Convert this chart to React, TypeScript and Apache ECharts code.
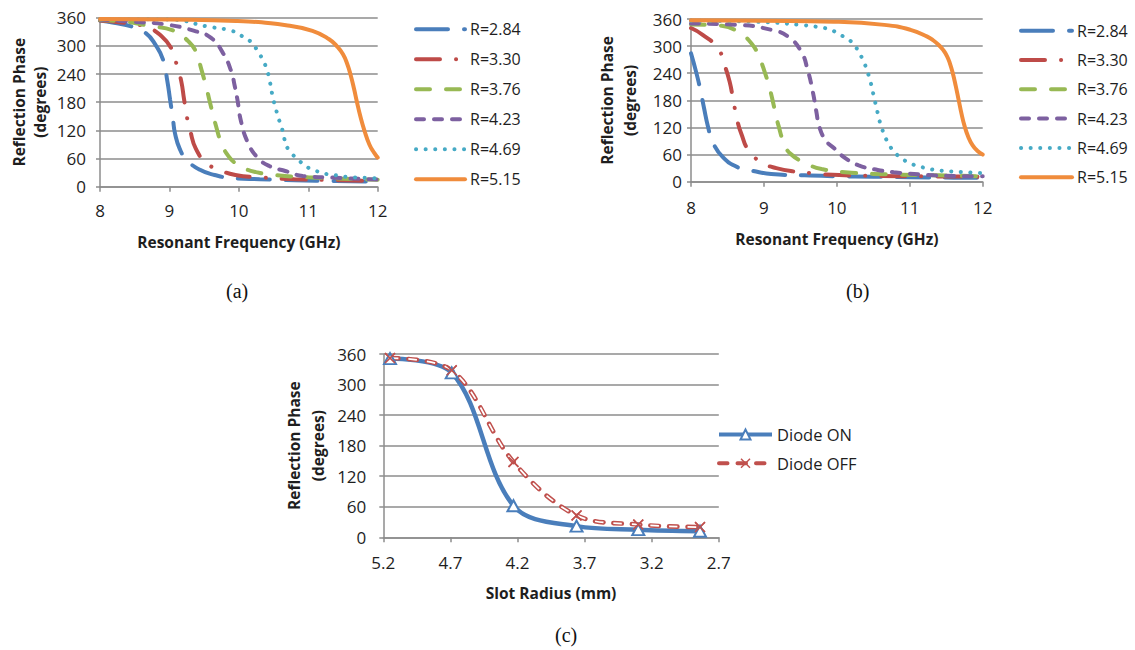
import React, { useEffect, useRef } from "react";
import * as echarts from "echarts";

// ---------- Data: chart (a) ----------
const aR284 = [[8, 354], [8.2, 349], [8.46, 341], [8.66, 327], [8.8, 302], [8.91, 270], [8.97, 225], [9.01, 185], [9.05, 145], [9.08, 114], [9.15, 80], [9.25, 57], [9.44, 36], [9.65, 25], [9.92, 18], [10.3, 16], [10.8, 14], [11.4, 12], [12, 11]];
const aR330 = [[8, 354], [8.3, 350], [8.55, 345], [8.69, 339], [8.86, 324], [9.03, 294], [9.11, 257], [9.17, 225], [9.21, 187], [9.25, 150], [9.3, 119], [9.38, 81], [9.53, 51], [9.7, 37], [9.95, 25], [10.3, 20], [10.8, 16], [11.4, 14], [12, 12]];
const aR376 = [[8, 355], [8.4, 351], [8.69, 343], [9.07, 332], [9.27, 310], [9.38, 288], [9.46, 250], [9.53, 212], [9.6, 170], [9.67, 130], [9.75, 92], [9.85, 65], [9.95, 50], [10.06, 40], [10.25, 31], [10.5, 25], [11, 20], [11.5, 17], [12, 15]];
const aR423 = [[8, 356], [8.5, 351], [8.93, 346], [9.36, 332], [9.6, 317], [9.77, 285], [9.89, 246], [9.94, 215], [9.98, 185], [10.03, 140], [10.13, 94], [10.27, 62], [10.44, 44], [10.68, 33], [10.92, 23], [11.4, 19], [12, 15]];
const aR469 = [[8, 357], [9, 356], [9.56, 341], [9.9, 332], [10.03, 322], [10.13, 314], [10.22, 300], [10.3, 282], [10.36, 266], [10.41, 246], [10.44, 229], [10.49, 190], [10.53, 168], [10.56, 151], [10.6, 133], [10.64, 114], [10.67, 94], [10.72, 78], [10.82, 62], [10.93, 48], [11.03, 38], [11.17, 31], [11.29, 26], [11.41, 24], [11.55, 21], [11.8, 19], [12, 18]];
const aR515 = [[8, 357], [9, 356], [9.96, 353], [10.68, 344], [11.06, 332], [11.3, 314], [11.42, 298], [11.5, 282], [11.56, 262], [11.61, 238], [11.66, 208], [11.7, 181], [11.75, 150], [11.81, 119], [11.88, 90], [11.95, 72], [12, 62]];

// ---------- Data: chart (b) ----------
const bR284 = [[8, 284], [8.07, 243], [8.13, 202], [8.18, 162], [8.23, 124], [8.3, 87], [8.44, 54], [8.64, 32], [8.85, 24], [9.1, 17], [9.56, 14], [10, 12], [10.5, 11], [11, 10], [11.6, 9], [12, 9]];
const bR330 = [[8, 340], [8.16, 325], [8.37, 295], [8.46, 258], [8.53, 221], [8.58, 180], [8.63, 139], [8.69, 106], [8.8, 67], [8.99, 41], [9.17, 30], [9.44, 22], [9.65, 19], [9.83, 16], [10.5, 13], [11.2, 12], [12, 11]];
const bR376 = [[8, 348], [8.42, 345], [8.64, 332], [8.83, 306], [8.94, 273], [9.01, 243], [9.08, 206], [9.15, 158], [9.2, 124], [9.28, 84], [9.37, 61], [9.6, 39], [9.79, 28], [10.2, 20], [10.8, 16], [11.4, 14], [12, 12]];
const bR423 = [[8, 350], [8.64, 347], [9.1, 336], [9.33, 321], [9.51, 288], [9.6, 247], [9.67, 199], [9.72, 154], [9.76, 121], [9.85, 91], [9.97, 73], [10.1, 54], [10.3, 36], [10.56, 26], [10.78, 21], [11.06, 17], [11.33, 14], [11.88, 12], [12, 12]];
const bR469 = [[8, 356], [8.87, 354], [9.5, 347], [9.79, 341], [9.92, 336], [10.03, 326], [10.14, 317], [10.24, 302], [10.31, 284], [10.37, 265], [10.42, 243], [10.46, 222], [10.49, 201], [10.52, 180], [10.55, 159], [10.58, 138], [10.62, 117], [10.67, 96], [10.73, 78], [10.81, 62], [10.91, 49], [11.03, 39], [11.15, 33], [11.28, 28], [11.4, 25], [11.54, 23], [11.66, 22], [11.79, 21], [11.92, 19], [12, 19]];
const bR515 = [[8, 357], [9, 356], [9.96, 354], [10.65, 347], [11.01, 336], [11.24, 321], [11.32, 313], [11.4, 302], [11.46, 291], [11.51, 278], [11.55, 262], [11.59, 240], [11.63, 212], [11.67, 181], [11.71, 150], [11.75, 124], [11.8, 100], [11.86, 81], [11.93, 68], [12, 60]];

// ---------- Data: chart (c) ----------
const slotRadius = [5.15, 4.69, 4.23, 3.76, 3.3, 2.84];
const diodeOn = [351, 323, 62, 22, 15, 12];
const diodeOff = [352, 328, 148, 43, 25, 20];
const slotTicks = [5.2, 4.7, 4.2, 3.7, 3.2, 2.7];

const seriesNames = ["R=2.84", "R=3.30", "R=3.76", "R=4.23", "R=4.69", "R=5.15"];
const aData = [aR284, aR330, aR376, aR423, aR469, aR515];
const bData = [bR284, bR330, bR376, bR423, bR469, bR515];

// ---------- Styles ----------
const colors = ["#4A7EBB", "#BE4B48", "#98B954", "#7D60A0", "#46AAC5", "#F08C3C"];
const dashes: any[] = [[32, 16], [24, 16, 0.1, 16], [14, 16], [8, 10], [0.1, 9.5], "solid"];
const FONT = "'Open Sans', 'Noto Sans', sans-serif";
const GRAY = "#8c8c8c";
const TXT = "#1e1e1e";
const BLUE = "#4A7EBB";
const RED = "#C0504D";
const XMARK = "path://M1,0L5,4L9,0L10,1L6,5L10,9L9,10L5,6L1,10L0,9L4,5L0,1Z";

function xAxisCfg(gridIndex: number, name: string, labelMargin: number, nameGap: number, extra: any) {
  return {
    gridIndex,
    type: "value",
    name,
    nameLocation: "middle",
    nameGap,
    nameTextStyle: { fontFamily: FONT, fontWeight: "bold", fontSize: 15.5, color: TXT },
    axisLine: { show: true, onZero: false, lineStyle: { color: GRAY, width: 1.5 } },
    axisTick: { show: true, length: 5, lineStyle: { color: GRAY, width: 1.5 } },
    axisLabel: { color: TXT, fontFamily: FONT, fontSize: 17, margin: labelMargin },
    splitLine: { show: false },
    ...extra,
  };
}

function yAxisCfg(gridIndex: number, labelMargin: number, nameGap: number, lineH: number) {
  return {
    gridIndex,
    type: "value",
    min: 0,
    max: 360,
    interval: 60,
    name: "Reflection Phase\n(degrees)",
    nameLocation: "middle",
    nameRotate: 90,
    nameGap,
    nameTextStyle: { fontFamily: FONT, fontWeight: "bold", fontSize: 15.5, color: TXT, lineHeight: lineH, align: "center" },
    axisLine: { show: true, lineStyle: { color: GRAY, width: 1.5 } },
    axisTick: { show: true, length: 4, lineStyle: { color: GRAY, width: 1.5 } },
    axisLabel: { color: TXT, fontFamily: FONT, fontSize: 17, margin: labelMargin },
    splitLine: { show: true, lineStyle: { color: GRAY, width: 1.5 } },
  };
}

function legendCfg(left: number, top: number, itemWidth: number, itemHeight: number, itemGap: number, itemTextGap: number, data: string[], fontSize: number, hideSymbol: boolean) {
  return {
    orient: "vertical",
    left,
    top,
    padding: 0,
    itemWidth,
    itemHeight,
    itemGap,
    itemTextGap,
    selectedMode: false,
    data,
    lineStyle: { width: 4 },
    itemStyle: hideSymbol ? { opacity: 0 } : {},
    textStyle: { fontFamily: FONT, fontSize, color: TXT, lineHeight: 16 },
  };
}

export default function App() {
  const ref = useRef<HTMLDivElement>(null);

  useEffect(() => {
    if (!ref.current) return;
    const chart = echarts.init(ref.current, null, { renderer: "svg" });

    const curveSeries = (data: number[][][], axisIndex: number) =>
      data.map((d, i) => ({
        name: seriesNames[i],
        type: "line",
        xAxisIndex: axisIndex,
        yAxisIndex: axisIndex,
        data: d,
        smooth: 0.5,
        symbol: "none",
        lineStyle: { color: colors[i], width: 4, type: dashes[i], cap: "round" },
        itemStyle: { color: colors[i] },
      }));

    const onPts = slotRadius.map((r, i) => [r, diodeOn[i]]);
    const offPts = slotRadius.map((r, i) => [r, diodeOff[i]]);

    const option: any = {
      animation: false,
      backgroundColor: "#ffffff",
      grid: [
        { left: 100, top: 17.7, width: 277.7, height: 169 },
        { left: 691, top: 19, width: 291.7, height: 162.7 },
        { left: 383.3, top: 354, width: 335.5, height: 183.3 },
      ],
      xAxis: [
        xAxisCfg(0, "Resonant Frequency (GHz)", 15, 47, { min: 8, max: 12, interval: 1 }),
        xAxisCfg(1, "Resonant Frequency (GHz)", 17, 49, { min: 8, max: 12, interval: 1 }),
        xAxisCfg(2, "Slot Radius (mm)", 17, 48, {
          min: 2.7,
          max: 5.2,
          inverse: true,
          axisTick: { show: true, length: 5, customValues: slotTicks, lineStyle: { color: GRAY, width: 1.5 } },
          axisLabel: {
            color: TXT,
            fontFamily: FONT,
            fontSize: 17,
            margin: 17,
            customValues: slotTicks,
            formatter: (v: number) => v.toFixed(1),
          },
        }),
      ],
      yAxis: [yAxisCfg(0, 14, 50, 21), yAxisCfg(1, 9, 50, 23), yAxisCfg(2, 17, 53, 24)],
      legend: [
        legendCfg(414, 21.3, 49, 16, 14, 5, seriesNames, 16, true),
        legendCfg(1019, 22.7, 51, 16, 13.3, 6, seriesNames, 16, true),
        legendCfg(717, 426, 53, 12.5, 11.7, 4, ["Diode ON", "Diode OFF"], 16.5, false),
      ],
      series: [
        ...curveSeries(aData, 0),
        ...curveSeries(bData, 1),
        {
          name: "Diode ON",
          type: "line",
          xAxisIndex: 2,
          yAxisIndex: 2,
          data: onPts,
          smooth: 0.35,
          symbol: "emptyTriangle",
          symbolSize: [12, 11],
          lineStyle: { color: BLUE, width: 4.5 },
          itemStyle: { color: BLUE },
        },
        {
          name: "Diode OFF",
          type: "line",
          xAxisIndex: 2,
          yAxisIndex: 2,
          data: offPts,
          smooth: 0.35,
          symbol: XMARK,
          symbolSize: 11,
          lineStyle: { color: RED, width: 4.6, type: [8.5, 10], cap: "round" },
          itemStyle: { color: RED },
        },
        {
          name: "Diode OFF inner",
          type: "line",
          xAxisIndex: 2,
          yAxisIndex: 2,
          data: offPts,
          smooth: 0.35,
          symbol: "none",
          silent: true,
          lineStyle: { color: "#ffffff", width: 1.7, type: [8.5, 10], cap: "butt" },
          itemStyle: { color: "#ffffff" },
        },
        {
          name: "Diode OFF",
          type: "scatter",
          xAxisIndex: 2,
          yAxisIndex: 2,
          data: offPts,
          symbol: XMARK,
          symbolSize: 11,
          itemStyle: { color: RED },
        },
      ],
      graphic: [
        { type: "text", left: 226, top: 281, style: { text: "(a)", font: "20px 'Liberation Serif', serif", fill: "#111" } },
        { type: "text", left: 846, top: 281, style: { text: "(b)", font: "20px 'Liberation Serif', serif", fill: "#111" } },
        { type: "text", left: 555, top: 625, style: { text: "(c)", font: "20px 'Liberation Serif', serif", fill: "#111" } },
      ],
    };

    chart.setOption(option);
    return () => chart.dispose();
  }, []);

  return <div ref={ref} style={{ position: "absolute", left: 0, top: 0, width: 1135, height: 650 }} />;
}
